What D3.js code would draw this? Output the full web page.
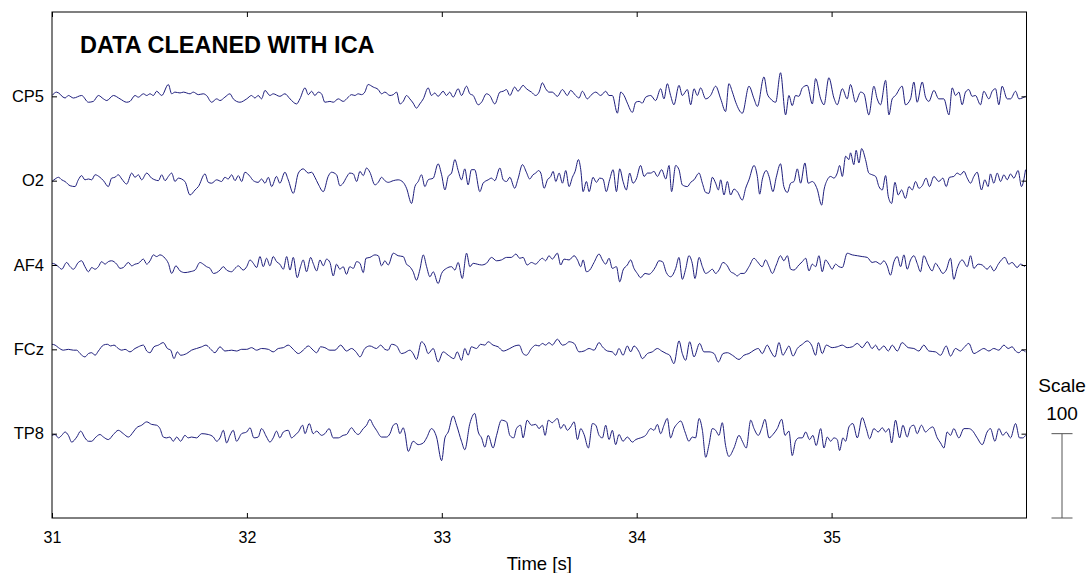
<!DOCTYPE html>
<html>
<head>
<meta charset="utf-8">
<script src="https://cdn.jsdelivr.net/npm/d3@7"></script>
<style>
  body { margin: 0; background: #fff; }
  text { font-family: "Liberation Sans", Arial, Helvetica, sans-serif; }
</style>
</head>
<body>
<svg id="chart" width="1086" height="573"></svg>
<script>
// EEG segment, cleaned with ICA.
// each channel is a list of turning points: [time (s), amplitude (uV)]

var cp5 = [[31.000,1],[31.024,5],[31.067,-2],[31.084,1],[31.110,-2],[31.152,1],[31.187,-7],[31.212,-6],[31.238,1],[31.264,-3],[31.281,-5],[31.315,1],[31.349,-3],[31.383,-7],[31.400,-6],[31.426,1],[31.443,-1],[31.469,3],[31.486,1],[31.503,3],[31.520,1],[31.537,6],[31.563,1],[31.597,14],[31.614,3],[31.631,5],[31.657,4],[31.674,5],[31.708,3],[31.725,5],[31.751,2],[31.776,3],[31.793,1],[31.819,-7],[31.845,-3],[31.862,-5],[31.887,-1],[31.913,3],[31.930,-3],[31.964,-7],[31.999,-3],[32.024,1],[32.041,-2],[32.058,1],[32.075,-3],[32.093,7],[32.118,1],[32.135,3],[32.169,0],[32.195,3],[32.221,-3],[32.255,-9],[32.272,-3],[32.298,10],[32.315,2],[32.332,6],[32.349,1],[32.366,5],[32.383,3],[32.400,-7],[32.426,-6],[32.443,-7],[32.469,-3],[32.494,-6],[32.520,-1],[32.537,2],[32.554,1],[32.571,3],[32.588,2],[32.605,5],[32.622,14],[32.648,11],[32.674,8],[32.691,3],[32.708,5],[32.734,1],[32.751,2],[32.768,5],[32.785,-9],[32.802,-6],[32.819,1],[32.836,-3],[32.853,-8],[32.870,-14],[32.887,-9],[32.905,-3],[32.930,10],[32.947,1],[32.964,4],[32.981,0],[33.007,6],[33.024,1],[33.041,5],[33.058,-1],[33.084,9],[33.101,1],[33.127,12],[33.144,3],[33.161,1],[33.187,-10],[33.204,-7],[33.229,3],[33.246,1],[33.272,-9],[33.298,5],[33.315,6],[33.332,8],[33.349,1],[33.374,11],[33.391,6],[33.417,13],[33.434,9],[33.460,5],
  [33.482,1],[33.499,5],[33.516,16],[33.533,9],[33.550,5],[33.567,5],[33.593,0],[33.619,8],[33.644,1],[33.661,7],[33.687,1],[33.704,-2],[33.721,6],[33.747,-3],[33.764,1],[33.790,5],[33.815,1],[33.841,6],[33.858,1],[33.875,1],[33.901,-20],[33.918,5],[33.935,1],[33.952,-8],[33.978,-19],[33.995,-7],[34.012,-6],[34.029,-8],[34.046,-1],[34.072,1],[34.097,-5],[34.123,9],[34.140,-3],[34.157,15],[34.174,1],[34.191,-10],[34.217,13],[34.234,1],[34.260,8],[34.277,-10],[34.294,9],[34.311,1],[34.328,10],[34.354,-3],[34.379,1],[34.405,12],[34.431,-3],[34.456,-18],[34.473,15],[34.491,5],[34.508,-7],[34.542,-20],[34.576,12],[34.602,-3],[34.619,-12],[34.653,23],[34.670,3],[34.687,-3],[34.713,-7],[34.738,28],[34.764,-22],[34.781,1],[34.798,-11],[34.815,1],[34.832,0],[34.850,10],[34.875,13],[34.901,-9],[34.918,21],[34.944,-3],[34.961,-10],[34.986,22],[35.012,-2],[35.029,-10],[35.055,9],[35.080,-3],[35.097,14],[35.123,-7],[35.149,5],[35.166,3],[35.191,-22],[35.217,12],[35.234,-3],[35.251,-10],[35.277,19],[35.294,-22],[35.311,-3],[35.328,1],[35.362,12],[35.379,-10],[35.405,-3],[35.422,17],[35.439,-7],[35.465,17],[35.482,-1],[35.499,-6],[35.525,7],[35.550,-3],[35.576,-3],[35.602,-22],[35.619,10],[35.636,1],[35.653,5],[35.670,-10],[35.687,5],[35.704,8],[35.721,0],[35.738,1],[35.764,-10],[35.781,6],[35.807,-3],[35.824,6],[35.841,9],[35.858,-10],[35.875,12],[35.901,-3],[35.918,-3],[35.944,6],[35.961,-3],[35.978,-2],[35.995,0]];

var o2 = [[31.000,-1],[31.016,2],[31.033,4],[31.050,1],[31.067,-1],[31.093,-6],[31.118,-7],[31.135,1],[31.152,6],[31.169,1],[31.187,2],[31.204,1],[31.221,7],[31.246,4],[31.264,0],[31.289,-7],[31.306,3],[31.323,4],[31.340,7],[31.358,2],[31.383,-4],[31.409,9],[31.426,4],[31.443,7],[31.460,1],[31.486,9],[31.511,3],[31.528,1],[31.546,0],[31.563,7],[31.580,0],[31.597,5],[31.614,9],[31.631,-1],[31.648,3],[31.682,-1],[31.708,-17],[31.734,-11],[31.751,-7],[31.785,8],[31.802,-2],[31.819,-3],[31.845,1],[31.870,-1],[31.887,4],[31.904,2],[31.922,7],[31.939,0],[31.956,6],[31.973,-1],[31.990,10],[32.016,5],[32.033,0],[32.058,-2],[32.075,2],[32.093,-3],[32.110,4],[32.127,-7],[32.152,5],[32.169,-3],[32.195,10],[32.212,1],[32.238,-15],[32.264,9],[32.289,14],[32.315,9],[32.332,10],[32.349,4],[32.366,-4],[32.392,-13],[32.417,5],[32.434,10],[32.460,7],[32.477,-6],[32.494,-3],[32.511,4],[32.528,9],[32.546,8],[32.563,-1],[32.580,11],[32.597,6],[32.614,15],[32.631,10],[32.657,-5],[32.674,-2],[32.691,4],[32.708,0],[32.725,-2],[32.751,0],[32.776,1],[32.802,-2],[32.819,-9],[32.845,-27],[32.862,-7],[32.879,-1],[32.896,7],[32.913,-7],[32.930,1],[32.956,3],[32.981,20],[32.999,7],[33.016,-11],[33.033,5],[33.050,9],[33.067,25],[33.084,12],[33.101,1],[33.118,14],[33.135,-5],[33.152,13],[33.169,13],[33.195,-13],[33.212,-3],[33.238,1],[33.255,3],[33.272,0],[33.298,15],[33.315,1],[33.332,-1],[33.349,4],[33.374,-9],[33.391,2],[33.414,19],[33.434,10],[33.451,2],[33.468,7],
  [33.482,9],[33.496,12],[33.508,9],[33.525,-9],[33.542,1],[33.559,5],[33.571,11],[33.585,-1],[33.602,9],[33.619,-3],[33.636,12],[33.653,-7],[33.670,4],[33.684,11],[33.701,25],[33.713,13],[33.725,-13],[33.742,-1],[33.756,-13],[33.776,4],[33.793,-2],[33.810,3],[33.827,2],[33.844,-13],[33.861,1],[33.879,13],[33.896,-13],[33.913,14],[33.930,-1],[33.947,-11],[33.964,9],[33.981,-3],[33.998,2],[34.020,18],[34.038,5],[34.055,9],[34.072,9],[34.089,11],[34.106,5],[34.128,13],[34.149,2],[34.166,18],[34.179,-13],[34.200,18],[34.217,13],[34.234,-5],[34.260,-7],[34.277,-2],[34.294,1],[34.320,9],[34.337,-3],[34.354,-14],[34.371,-15],[34.388,4],[34.405,-3],[34.419,-11],[34.431,1],[34.448,-17],[34.465,-1],[34.482,-17],[34.499,-10],[34.516,-13],[34.542,-23],[34.559,-9],[34.576,1],[34.602,18],[34.619,5],[34.631,-16],[34.644,1],[34.665,12],[34.679,5],[34.699,-13],[34.716,4],[34.738,20],[34.755,-7],[34.773,-14],[34.790,-3],[34.807,-1],[34.824,14],[34.841,-3],[34.863,21],[34.880,-3],[34.901,-1],[34.926,-10],[34.949,-29],[34.961,-11],[34.978,1],[34.995,5],[35.012,3],[35.029,9],[35.041,18],[35.055,5],[35.072,29],[35.089,25],[35.097,33],[35.114,19],[35.126,36],[35.140,21],[35.154,38],[35.174,25],[35.191,9],[35.208,7],[35.226,5],[35.243,-7],[35.260,-11],[35.277,6],[35.291,-19],[35.308,-27],[35.325,-2],[35.342,-17],[35.359,-11],[35.379,-21],[35.397,-7],[35.414,-11],[35.431,-1],[35.448,-9],[35.465,-6],[35.485,3],[35.502,-7],[35.525,5],[35.550,-1],[35.571,3],[35.588,-7],[35.605,4],[35.627,5],[35.644,9],[35.661,7],[35.679,11],[35.696,3],[35.713,-3],[35.730,5],[35.747,10],[35.769,-11],[35.786,1],[35.803,-7],[35.815,8],[35.832,-3],[35.850,9],[35.867,-1],[35.884,7],[35.901,1],[35.918,8],[35.935,3],[35.957,12],[35.974,-7],[35.995,13]];

var af4 = [[31.000,2],[31.016,1],[31.033,-2],[31.050,-5],[31.075,3],[31.093,-2],[31.110,-5],[31.135,3],[31.152,5],[31.169,-2],[31.187,-8],[31.204,-3],[31.221,-5],[31.238,-2],[31.255,4],[31.272,1],[31.289,4],[31.306,5],[31.332,1],[31.349,-4],[31.366,-3],[31.392,3],[31.409,-1],[31.426,1],[31.443,2],[31.469,7],[31.486,1],[31.503,5],[31.520,12],[31.537,10],[31.554,12],[31.580,8],[31.597,2],[31.614,-10],[31.636,-1],[31.657,-7],[31.682,-9],[31.708,-8],[31.734,-6],[31.759,3],[31.776,1],[31.793,-2],[31.811,-4],[31.828,-10],[31.845,-9],[31.862,-6],[31.879,-2],[31.896,-6],[31.922,-8],[31.939,-4],[31.956,-1],[31.981,-6],[31.999,-2],[32.016,6],[32.033,2],[32.050,-3],[32.067,10],[32.084,-2],[32.101,8],[32.118,-1],[32.135,10],[32.152,4],[32.169,1],[32.187,-5],[32.204,10],[32.221,-6],[32.238,9],[32.258,-15],[32.275,-2],[32.289,6],[32.306,-8],[32.327,9],[32.340,2],[32.358,-7],[32.375,6],[32.392,-1],[32.409,7],[32.426,3],[32.443,-13],[32.460,1],[32.477,-5],[32.494,-2],[32.511,-11],[32.528,-2],[32.546,-4],[32.563,4],[32.580,2],[32.597,-9],[32.611,8],[32.631,9],[32.657,12],[32.674,11],[32.691,-1],[32.708,5],[32.725,0],[32.751,14],[32.776,11],[32.802,10],[32.819,1],[32.836,-2],[32.853,-8],[32.870,-18],[32.887,-6],[32.905,12],[32.922,-2],[32.939,-14],[32.956,-8],[32.981,-22],[32.999,-10],[33.024,-4],[33.050,-2],[33.067,-6],[33.084,3],[33.105,-16],[33.127,14],[33.144,-2],[33.161,2],[33.182,1],[33.204,0],[33.229,2],[33.255,9],[33.281,5],[33.306,6],[33.332,9],[33.357,9],[33.380,13],[33.400,8],[33.417,9],[33.438,0],[33.460,3],
  [33.482,1],[33.499,5],[33.516,8],[33.533,5],[33.550,11],[33.567,7],[33.593,14],[33.610,0],[33.627,7],[33.653,6],[33.679,11],[33.696,6],[33.713,-2],[33.725,6],[33.742,-8],[33.759,-6],[33.781,3],[33.807,13],[33.824,6],[33.841,1],[33.858,8],[33.875,-4],[33.896,-2],[33.913,-20],[33.930,-6],[33.952,0],[33.969,6],[33.986,-4],[34.003,-10],[34.020,-15],[34.043,-10],[34.063,-11],[34.080,-8],[34.097,-2],[34.114,5],[34.132,4],[34.152,-9],[34.174,-14],[34.200,-4],[34.217,9],[34.234,-17],[34.251,-5],[34.268,11],[34.285,2],[34.299,-16],[34.320,9],[34.337,-2],[34.354,-10],[34.371,-8],[34.388,-5],[34.405,-10],[34.422,-6],[34.443,3],[34.465,-1],[34.482,-8],[34.499,-10],[34.516,-13],[34.533,-10],[34.550,-10],[34.576,-2],[34.602,8],[34.619,4],[34.644,-2],[34.661,6],[34.679,-2],[34.696,-10],[34.716,0],[34.738,11],[34.755,5],[34.773,11],[34.790,-5],[34.807,-6],[34.832,0],[34.850,4],[34.867,8],[34.884,-7],[34.901,1],[34.918,-2],[34.935,11],[34.952,-8],[34.969,6],[34.986,1],[35.003,-5],[35.020,1],[35.038,-2],[35.055,-3],[35.080,14],[35.106,12],[35.132,11],[35.157,10],[35.183,9],[35.208,3],[35.226,4],[35.251,1],[35.268,5],[35.285,-1],[35.302,-12],[35.320,4],[35.337,10],[35.354,-2],[35.371,12],[35.388,-5],[35.405,6],[35.422,11],[35.439,2],[35.456,-8],[35.473,11],[35.496,0],[35.516,-7],[35.533,2],[35.550,-3],[35.571,-10],[35.588,-6],[35.610,8],[35.627,-17],[35.644,-4],[35.670,6],[35.696,-2],[35.713,11],[35.730,-4],[35.752,1],[35.773,0],[35.798,-5],[35.815,-1],[35.832,-7],[35.858,2],[35.889,9],[35.909,1],[35.926,3],[35.952,-3],[35.969,1],[35.991,-2]];

var fcz = [[31.000,6],[31.016,5],[31.033,2],[31.058,-1],[31.084,0],[31.110,-1],[31.127,-1],[31.144,-5],[31.169,-9],[31.187,-5],[31.204,-4],[31.221,-7],[31.238,-2],[31.264,5],[31.284,6],[31.301,4],[31.318,5],[31.340,1],[31.358,-1],[31.375,0],[31.400,-3],[31.426,1],[31.443,3],[31.469,5],[31.486,-2],[31.503,-4],[31.523,3],[31.546,5],[31.571,8],[31.592,1],[31.609,-1],[31.626,-11],[31.643,-3],[31.660,-7],[31.691,-5],[31.716,-1],[31.742,1],[31.768,3],[31.790,5],[31.811,1],[31.836,-4],[31.862,3],[31.887,-2],[31.922,-1],[31.947,-2],[31.973,0],[31.999,0],[32.024,2],[32.050,-1],[32.075,1],[32.110,0],[32.135,-3],[32.161,1],[32.187,2],[32.212,5],[32.238,0],[32.264,-5],[32.289,-1],[32.315,4],[32.340,-1],[32.358,-4],[32.378,3],[32.400,2],[32.426,-1],[32.452,-1],[32.481,5],[32.511,-2],[32.537,1],[32.563,-4],[32.580,-9],[32.605,1],[32.631,4],[32.665,1],[32.686,5],[32.708,0],[32.725,-1],[32.742,6],[32.768,4],[32.793,-5],[32.810,-4],[32.836,-1],[32.853,-5],[32.870,-12],[32.896,9],[32.913,5],[32.930,-5],[32.956,1],[32.981,-15],[33.007,-3],[33.033,-7],[33.062,-11],[33.079,-3],[33.101,-13],[33.118,1],[33.135,-7],[33.152,3],[33.178,1],[33.199,6],[33.221,5],[33.238,9],[33.263,5],[33.289,3],[33.315,-2],[33.349,1],[33.374,4],[33.397,5],[33.417,-5],[33.434,-7],[33.460,1],
  [33.482,5],[33.499,4],[33.516,7],[33.533,5],[33.550,8],[33.567,5],[33.593,12],[33.619,5],[33.636,6],[33.653,9],[33.679,7],[33.704,-3],[33.730,-2],[33.756,1],[33.781,-1],[33.807,8],[33.824,3],[33.850,-2],[33.875,-3],[33.892,-7],[33.909,1],[33.930,-7],[33.952,4],[33.969,-3],[33.986,4],[34.012,-3],[34.029,-11],[34.055,-5],[34.080,-3],[34.106,1],[34.128,-2],[34.152,-5],[34.169,-7],[34.191,-17],[34.217,10],[34.234,-5],[34.251,-13],[34.272,9],[34.294,-9],[34.323,7],[34.345,-3],[34.371,-3],[34.397,-5],[34.419,-15],[34.443,-5],[34.465,-4],[34.491,-7],[34.525,-12],[34.550,-7],[34.576,-5],[34.602,-1],[34.624,1],[34.644,-5],[34.670,5],[34.687,-2],[34.709,-9],[34.730,8],[34.750,-7],[34.767,-1],[34.781,4],[34.802,-8],[34.824,1],[34.850,6],[34.875,10],[34.897,5],[34.918,-7],[34.932,8],[34.952,-5],[34.973,5],[35.003,2],[35.029,3],[35.055,5],[35.080,2],[35.106,3],[35.132,7],[35.157,2],[35.183,9],[35.208,1],[35.226,5],[35.243,-1],[35.268,4],[35.291,-2],[35.311,5],[35.337,-2],[35.362,8],[35.393,2],[35.422,1],[35.448,-2],[35.473,5],[35.499,-2],[35.533,-3],[35.559,-7],[35.588,4],[35.610,-8],[35.636,1],[35.661,-2],[35.679,2],[35.704,7],[35.730,-5],[35.756,-2],[35.781,1],[35.807,-2],[35.832,1],[35.858,-1],[35.884,5],[35.906,1],[35.926,3],[35.944,-2],[35.961,-4],[35.978,-1],[35.995,-3]];

var tp8 = [[31.000,-2],[31.016,-1],[31.033,-5],[31.050,-2],[31.067,2],[31.084,-2],[31.101,-10],[31.127,-4],[31.147,3],[31.169,-5],[31.187,-9],[31.204,-9],[31.221,-5],[31.246,-1],[31.264,-4],[31.289,-7],[31.315,-1],[31.340,4],[31.366,0],[31.392,-4],[31.417,2],[31.434,7],[31.460,10],[31.486,14],[31.511,11],[31.537,10],[31.554,6],[31.571,-4],[31.588,-5],[31.605,-4],[31.622,-9],[31.640,-4],[31.660,-9],[31.682,-2],[31.699,-5],[31.716,-4],[31.742,-5],[31.768,0],[31.802,-1],[31.828,-4],[31.845,-9],[31.862,-5],[31.879,4],[31.896,-11],[31.913,-2],[31.930,4],[31.947,-9],[31.973,0],[31.999,2],[32.016,7],[32.036,-5],[32.058,-4],[32.075,6],[32.101,-4],[32.118,-10],[32.135,-5],[32.152,3],[32.169,-5],[32.187,2],[32.212,4],[32.229,-5],[32.246,-2],[32.264,2],[32.286,10],[32.298,0],[32.320,12],[32.340,0],[32.358,3],[32.383,-2],[32.400,0],[32.422,6],[32.443,-5],[32.469,-5],[32.494,-2],[32.511,-1],[32.537,7],[32.554,2],[32.571,-1],[32.597,6],[32.614,10],[32.631,17],[32.648,10],[32.665,4],[32.691,-4],[32.716,-4],[32.734,0],[32.751,10],[32.768,12],[32.785,0],[32.802,7],[32.810,2],[32.828,-21],[32.853,-9],[32.879,-13],[32.905,-11],[32.922,-5],[32.947,6],[32.973,-4],[32.999,-32],[33.016,-5],[33.033,2],[33.058,21],[33.076,10],[33.101,-9],[33.118,-19],[33.144,12],[33.169,24],[33.187,2],[33.204,-5],[33.221,-16],[33.238,-2],[33.263,-17],[33.281,-2],[33.306,16],[33.332,14],[33.349,-2],[33.369,-5],[33.383,6],[33.404,10],[33.417,-5],[33.438,16],[33.460,10],
  [33.482,11],[33.499,6],[33.516,10],[33.530,-2],[33.547,16],[33.567,13],[33.581,16],[33.593,18],[33.610,6],[33.627,11],[33.644,4],[33.661,8],[33.679,14],[33.696,-7],[33.713,6],[33.730,-1],[33.752,-17],[33.773,12],[33.790,10],[33.807,-2],[33.824,-5],[33.841,10],[33.858,-7],[33.875,4],[33.892,-13],[33.909,-1],[33.930,-9],[33.952,-4],[33.978,-10],[33.995,-7],[34.020,-5],[34.046,-2],[34.072,6],[34.089,4],[34.106,11],[34.123,0],[34.140,10],[34.157,18],[34.174,-5],[34.191,6],[34.209,12],[34.226,15],[34.248,2],[34.268,-9],[34.285,-4],[34.302,-5],[34.320,18],[34.337,4],[34.354,-28],[34.371,-13],[34.388,6],[34.405,4],[34.422,-2],[34.439,13],[34.456,-14],[34.473,-27],[34.499,-17],[34.525,-2],[34.542,-9],[34.562,-17],[34.585,16],[34.602,6],[34.624,-2],[34.641,6],[34.658,17],[34.679,-5],[34.699,-1],[34.721,6],[34.744,17],[34.761,-2],[34.781,3],[34.798,-26],[34.815,-9],[34.832,-5],[34.850,-5],[34.867,2],[34.887,-7],[34.904,-2],[34.921,-14],[34.944,6],[34.961,-17],[34.978,-4],[34.995,-9],[35.012,-5],[35.029,-7],[35.041,-20],[35.058,-5],[35.072,-9],[35.089,8],[35.109,12],[35.132,-5],[35.157,19],[35.178,6],[35.195,-6],[35.217,6],[35.239,2],[35.260,7],[35.277,2],[35.294,6],[35.308,-11],[35.328,16],[35.349,-5],[35.366,10],[35.388,-4],[35.405,8],[35.422,10],[35.439,0],[35.461,10],[35.482,2],[35.502,6],[35.519,8],[35.542,-5],[35.559,-11],[35.576,-17],[35.593,2],[35.610,-2],[35.627,6],[35.653,-5],[35.679,6],[35.704,6],[35.721,4],[35.747,-5],[35.773,-13],[35.798,2],[35.815,6],[35.838,-9],[35.858,6],[35.879,-2],[35.896,2],[35.918,-5],[35.944,12],[35.964,-5],[35.981,-5],[35.995,-2]];

var channelNames = ["CP5", "O2", "AF4", "FCz", "TP8"];
var channelData = [cp5, o2, af4, fcz, tp8];
var channelOffsets = [500, 400, 300, 200, 100];
var timeTicks = [31, 32, 33, 34, 35];
var scaleValue = 100;

var svg = d3.select("#chart"),
    margin = {top: 12, right: 59.5, bottom: 55, left: 52},
    width = +svg.attr("width") - margin.left - margin.right,
    height = +svg.attr("height") - margin.top - margin.bottom,
    g = svg.append("g").attr("transform", "translate(" + margin.left + "," + margin.top + ")");

var x = d3.scaleLinear()
    .domain([31, 36])
    .range([0, width]);

var y = d3.scaleLinear()
    .domain([0, 600])
    .range([height, 0]);

svg.append("defs").append("clipPath")
    .attr("id", "plotClip")
  .append("rect")
    .attr("width", width)
    .attr("height", height);

// traces
var line = d3.line()
    .curve(d3.curveMonotoneX);

g.append("g")
    .attr("clip-path", "url(#plotClip)")
  .selectAll("path")
  .data(channelData)
  .enter().append("path")
    .attr("fill", "none")
    .attr("stroke", "#1e1e7c")
    .attr("stroke-width", 1)
    .attr("stroke-linejoin", "round")
    .attr("d", function(d, i) {
      return line.x(function(p) { return x(p[0]); })
                 .y(function(p) { return y(channelOffsets[i] + p[1]); })(d);
    });

// axes, ticks pointing inwards
g.append("g")
    .attr("class", "axis xaxis")
    .attr("transform", "translate(0," + height + ")")
    .call(d3.axisBottom(x).tickValues(timeTicks).tickSizeInner(-5).tickSizeOuter(0).tickPadding(14)
      .tickFormat(d3.format("d")));

g.append("g")
    .attr("class", "axis")
    .call(d3.axisTop(x).tickValues(timeTicks).tickSizeInner(-5).tickSizeOuter(0).tickFormat(""));

g.append("g")
    .attr("class", "axis yaxis")
    .call(d3.axisLeft(y).tickValues(channelOffsets).tickSizeInner(-5).tickSizeOuter(0).tickPadding(8)
      .tickFormat(function(d) { return channelNames[channelOffsets.indexOf(d)]; }));

g.append("g")
    .attr("class", "axis")
    .attr("transform", "translate(" + width + ",0)")
    .call(d3.axisRight(y).tickValues(channelOffsets).tickSizeInner(-5).tickSizeOuter(0).tickFormat(""));

g.selectAll(".axis .domain").remove();
g.selectAll(".axis text")
    .attr("font-family", "Liberation Sans, Arial, sans-serif")
    .attr("fill", "#000");
g.selectAll(".xaxis text").attr("font-size", 16);
g.selectAll(".yaxis text").attr("font-size", 16.5);
g.selectAll(".axis line").attr("stroke", "#000");

g.append("rect")
    .attr("width", width)
    .attr("height", height)
    .attr("fill", "none")
    .attr("stroke", "#000")
    .attr("stroke-width", 1);

g.append("text")
    .attr("x", 28)
    .attr("y", 41)
    .attr("font-size", 23.5)
    .attr("font-weight", "bold")
    .text("DATA CLEANED WITH ICA");

g.append("text")
    .attr("x", width / 2)
    .attr("y", height + 52)
    .attr("text-anchor", "middle")
    .attr("font-size", 18.5)
    .text("Time [s]");

// scale bar
var bar = g.append("g")
    .attr("transform", "translate(" + (width + 35.5) + ",0)")
    .attr("stroke", "#555");

bar.append("line")
    .attr("y1", y(0)).attr("y2", y(scaleValue));
bar.append("line")
    .attr("x1", -10.5).attr("x2", 10.5)
    .attr("y1", y(0)).attr("y2", y(0));
bar.append("line")
    .attr("x1", -10.5).attr("x2", 10.5)
    .attr("y1", y(scaleValue)).attr("y2", y(scaleValue));

g.append("text")
    .attr("x", width + 35.5)
    .attr("y", y(scaleValue) - 42)
    .attr("text-anchor", "middle")
    .attr("font-size", 19)
    .text("Scale");

g.append("text")
    .attr("x", width + 35.5)
    .attr("y", y(scaleValue) - 14)
    .attr("text-anchor", "middle")
    .attr("font-size", 19)
    .text(scaleValue);
</script>
</body>
</html>
